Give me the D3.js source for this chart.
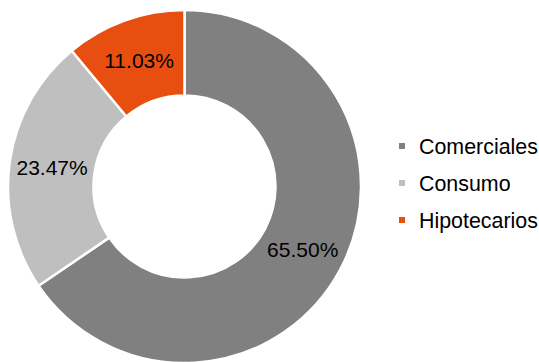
<!DOCTYPE html>
<html lang="en">
<head>
<meta charset="UTF-8">
<title>Cartera</title>
<script src="https://d3js.org/d3.v7.min.js"></script>
<style>
    body { margin: 0; background: #fff; }
    svg { display: block; font-family: "Liberation Sans", Arial, sans-serif; }
</style>
</head>
<body>
<svg width="539" height="362"></svg>
<script>
    const categories = ["Comerciales", "Consumo", "Hipotecarios"];
    const values = [65.50, 23.47, 11.03];
    const colors = ["#808080", "#bfbfbf", "#e84e0f"];

    const svg = d3.select("svg");
    const cx = 184.5, cy = 186.5;
    const outerR = 176.5, innerR = 91;

    const color = d3.scaleOrdinal().domain(categories).range(colors);

    const data = categories.map((c, i) => ({ name: c, value: values[i] }));
    const pie = d3.pie().value(d => d.value).sort(null);
    const arc = d3.arc().innerRadius(innerR).outerRadius(outerR);

    const g = svg.append("g").attr("transform", `translate(${cx},${cy})`);

    const arcs = pie(data);

    g.selectAll("path")
        .data(arcs)
        .enter().append("path")
        .attr("d", arc)
        .attr("fill", d => color(d.data.name))
        .attr("stroke", "#fff")
        .attr("stroke-width", 2.5)
        .attr("stroke-linejoin", "miter");

    g.selectAll("text")
        .data(arcs)
        .enter().append("text")
        .attr("transform", d => `translate(${arc.centroid(d)})`)
        .attr("text-anchor", "middle")
        .attr("dy", "0.36em")
        .style("font-size", "21px")
        .attr("fill", "#000")
        .text(d => d.data.value.toFixed(2) + "%");

    // legend
    const legend = svg.append("g").attr("transform", "translate(399,146)");
    const item = legend.selectAll("g")
        .data(categories)
        .enter().append("g")
        .attr("transform", (d, i) => `translate(0,${i * 37})`);

    item.append("rect")
        .attr("x", 0).attr("y", -3)
        .attr("width", 6).attr("height", 6)
        .attr("fill", d => color(d));

    item.append("text")
        .attr("x", 20)
        .attr("dy", "0.36em")
        .style("font-size", "21.4px")
        .attr("fill", "#000")
        .text(d => d);
</script>
</body>
</html>
